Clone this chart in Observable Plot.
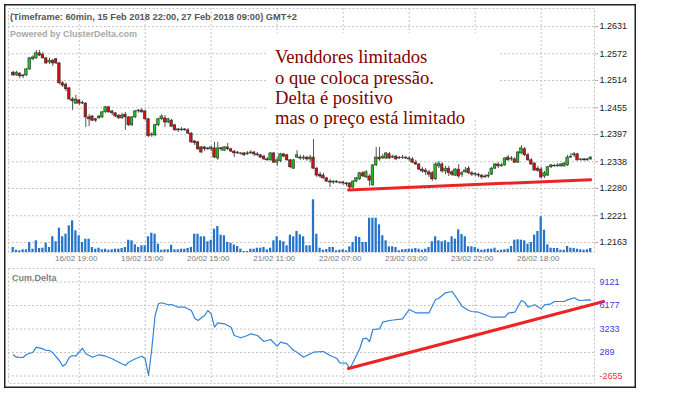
<!DOCTYPE html>
<html><head><meta charset="utf-8">
<script src="https://cdn.jsdelivr.net/npm/d3@7"></script>
<script src="https://cdn.jsdelivr.net/npm/@observablehq/plot@0.6"></script>
<style>
html,body{margin:0;padding:0;background:#fff;}
#chart{position:relative;width:699px;height:420px;overflow:hidden;background:#fff;}
#chart svg{position:absolute;left:0;top:0;}
</style></head><body><div id="chart"></div>
<script>
// ---------- DATA ----------
const openP = [
1.2531,1.2525,1.2529,1.2523,1.2525,1.2538,1.2560,1.2562,1.2573,1.2570,
1.2562,1.2553,1.2557,1.2560,1.2551,1.2508,1.2505,1.2497,1.2473,1.2464,
1.2471,1.2464,1.2464,1.2434,1.2436,1.2430,1.2432,1.2434,1.2445,1.2456,
1.2447,1.2443,1.2438,1.2432,1.2440,1.2434,1.2417,1.2434,1.2447,1.2449,
1.2447,1.2430,1.2395,1.2395,1.2417,1.2430,1.2432,1.2423,1.2427,1.2417,
1.2408,1.2406,1.2408,1.2406,1.2399,1.2382,1.2380,1.2369,1.2369,1.2365,
1.2365,1.2367,1.2345,1.2367,1.2362,1.2369,1.2365,1.2360,1.2358,1.2356,
1.2356,1.2354,1.2356,1.2358,1.2354,1.2352,1.2349,1.2343,1.2341,1.2356,
1.2336,1.2339,1.2354,1.2352,1.2341,1.2323,1.2347,1.2347,1.2345,1.2347,
1.2343,1.2347,1.2323,1.2310,1.2308,1.2302,1.2295,1.2293,1.2295,1.2293,
1.2293,1.2291,1.2291,1.2282,1.2295,1.2300,1.2313,1.2304,1.2306,1.2287,
1.2330,1.2347,1.2345,1.2345,1.2354,1.2347,1.2349,1.2345,1.2347,1.2347,
1.2345,1.2343,1.2336,1.2332,1.2321,1.2319,1.2315,1.2313,1.2300,1.2328,
1.2332,1.2317,1.2323,1.2315,1.2308,1.2321,1.2310,1.2315,1.2323,1.2313,
1.2310,1.2310,1.2308,1.2304,1.2306,1.2310,1.2323,1.2332,1.2328,1.2330,
1.2347,1.2343,1.2343,1.2336,1.2356,1.2365,1.2352,1.2341,1.2334,1.2323,
1.2321,1.2306,1.2308,1.2326,1.2328,1.2328,1.2328,1.2328,1.2330,1.2347,
1.2352,1.2354,1.2343,1.2343,1.2341,1.2343];
const highP = [
1.2534,1.2534,1.2531,1.2527,1.2540,1.2564,1.2568,1.2579,1.2579,1.2575,
1.2564,1.2562,1.2560,1.2562,1.2553,1.2512,1.2508,1.2499,1.2477,1.2482,
1.2473,1.2469,1.2466,1.2440,1.2438,1.2432,1.2438,1.2447,1.2458,1.2458,
1.2449,1.2445,1.2440,1.2443,1.2445,1.2436,1.2436,1.2449,1.2451,1.2453,
1.2449,1.2432,1.2401,1.2419,1.2432,1.2440,1.2438,1.2432,1.2430,1.2419,
1.2410,1.2412,1.2410,1.2410,1.2401,1.2384,1.2382,1.2371,1.2371,1.2369,
1.2371,1.2380,1.2380,1.2369,1.2371,1.2378,1.2367,1.2362,1.2360,1.2358,
1.2358,1.2360,1.2362,1.2360,1.2358,1.2354,1.2352,1.2347,1.2358,1.2358,
1.2347,1.2356,1.2356,1.2354,1.2343,1.2343,1.2362,1.2352,1.2352,1.2349,
1.2352,1.2386,1.2326,1.2315,1.2313,1.2304,1.2300,1.2297,1.2297,1.2295,
1.2295,1.2293,1.2293,1.2297,1.2304,1.2315,1.2317,1.2319,1.2310,1.2332,
1.2369,1.2369,1.2354,1.2358,1.2358,1.2352,1.2352,1.2349,1.2352,1.2349,
1.2349,1.2347,1.2341,1.2334,1.2326,1.2323,1.2319,1.2317,1.2336,1.2339,
1.2336,1.2328,1.2328,1.2319,1.2323,1.2332,1.2317,1.2326,1.2328,1.2317,
1.2315,1.2313,1.2310,1.2310,1.2315,1.2326,1.2334,1.2336,1.2334,1.2347,
1.2352,1.2349,1.2347,1.2360,1.2373,1.2369,1.2356,1.2345,1.2336,1.2328,
1.2326,1.2317,1.2328,1.2332,1.2332,1.2334,1.2334,1.2336,1.2352,1.2356,
1.2358,1.2356,1.2345,1.2345,1.2345,1.2349];
const lowP = [
1.2523,1.2523,1.2518,1.2518,1.2523,1.2536,1.2557,1.2560,1.2566,1.2560,
1.2549,1.2549,1.2544,1.2549,1.2505,1.2499,1.2490,1.2471,1.2449,1.2462,
1.2460,1.2462,1.2412,1.2414,1.2425,1.2423,1.2430,1.2432,1.2443,1.2443,
1.2438,1.2434,1.2430,1.2430,1.2406,1.2414,1.2414,1.2432,1.2443,1.2443,
1.2427,1.2391,1.2391,1.2393,1.2414,1.2427,1.2412,1.2421,1.2412,1.2404,
1.2401,1.2404,1.2404,1.2397,1.2378,1.2373,1.2362,1.2356,1.2360,1.2362,
1.2360,1.2345,1.2341,1.2360,1.2360,1.2362,1.2358,1.2347,1.2354,1.2352,
1.2349,1.2352,1.2354,1.2349,1.2349,1.2345,1.2341,1.2339,1.2339,1.2334,
1.2328,1.2336,1.2347,1.2339,1.2323,1.2321,1.2345,1.2341,1.2341,1.2339,
1.2336,1.2321,1.2304,1.2302,1.2300,1.2293,1.2282,1.2289,1.2291,1.2289,
1.2287,1.2284,1.2278,1.2280,1.2293,1.2297,1.2304,1.2302,1.2284,1.2284,
1.2328,1.2339,1.2343,1.2343,1.2343,1.2345,1.2341,1.2343,1.2343,1.2343,
1.2339,1.2334,1.2330,1.2319,1.2313,1.2308,1.2304,1.2295,1.2297,1.2323,
1.2313,1.2310,1.2306,1.2306,1.2306,1.2302,1.2304,1.2313,1.2310,1.2306,
1.2306,1.2304,1.2300,1.2302,1.2302,1.2308,1.2321,1.2323,1.2326,1.2328,
1.2339,1.2339,1.2334,1.2334,1.2354,1.2349,1.2339,1.2330,1.2317,1.2315,
1.2300,1.2302,1.2306,1.2323,1.2326,1.2326,1.2326,1.2326,1.2328,1.2345,
1.2347,1.2339,1.2339,1.2339,1.2339,1.2341];
const closeP = [
1.2525,1.2531,1.2523,1.2525,1.2538,1.2562,1.2564,1.2573,1.2568,1.2562,
1.2551,1.2557,1.2551,1.2551,1.2508,1.2503,1.2495,1.2473,1.2469,1.2473,
1.2464,1.2466,1.2434,1.2430,1.2427,1.2427,1.2436,1.2445,1.2456,1.2445,
1.2443,1.2436,1.2432,1.2438,1.2434,1.2417,1.2434,1.2447,1.2449,1.2445,
1.2430,1.2393,1.2397,1.2417,1.2430,1.2436,1.2423,1.2430,1.2414,1.2406,
1.2406,1.2408,1.2406,1.2399,1.2380,1.2378,1.2365,1.2358,1.2365,1.2367,
1.2369,1.2347,1.2367,1.2365,1.2369,1.2365,1.2360,1.2356,1.2356,1.2355,
1.2352,1.2356,1.2358,1.2354,1.2352,1.2347,1.2343,1.2341,1.2356,1.2336,
1.2341,1.2354,1.2349,1.2341,1.2326,1.2341,1.2352,1.2345,1.2347,1.2343,
1.2347,1.2323,1.2308,1.2306,1.2302,1.2295,1.2293,1.2295,1.2293,1.2292,
1.2291,1.2289,1.2282,1.2295,1.2302,1.2313,1.2306,1.2315,1.2297,1.2330,
1.2347,1.2343,1.2349,1.2356,1.2345,1.2349,1.2343,1.2347,1.2346,1.2345,
1.2343,1.2336,1.2332,1.2321,1.2317,1.2315,1.2310,1.2300,1.2332,1.2334,
1.2317,1.2323,1.2313,1.2310,1.2321,1.2306,1.2313,1.2319,1.2313,1.2310,
1.2311,1.2308,1.2304,1.2306,1.2308,1.2323,1.2332,1.2328,1.2330,1.2345,
1.2341,1.2345,1.2336,1.2358,1.2367,1.2352,1.2341,1.2332,1.2319,1.2318,
1.2304,1.2313,1.2326,1.2330,1.2329,1.2330,1.2332,1.2334,1.2347,1.2349,
1.2354,1.2341,1.2342,1.2341,1.2343,1.2347];
const volume = [
50,23,17,27,27,100,33,117,40,43,
93,50,157,107,243,157,183,267,317,217,
167,100,133,133,50,33,43,27,33,23,
27,33,33,40,50,123,117,77,50,67,
67,157,193,183,83,23,27,27,73,27,
27,33,33,40,50,183,183,157,157,107,
123,233,260,173,167,100,93,75,60,33,
10,10,33,33,43,43,50,27,43,117,
157,117,107,67,173,157,210,177,157,67,
67,527,183,43,23,30,50,50,17,23,
27,17,57,100,157,150,100,100,343,343,
343,277,167,117,57,57,50,17,27,30,
33,33,40,33,23,33,50,107,157,117,
107,117,100,157,133,227,180,157,57,57,
50,33,23,27,33,33,43,17,23,27,
33,60,123,127,123,117,83,100,173,210,
357,223,77,43,40,40,23,23,60,43,
40,33,27,23,27,40];
const deltaIdx = [0,1,3,4,6,7,9,10,11,12,14,15,16,17,18,19,21,22,24,26,28,30,32,34,35,37,39,40,41,42,43,44,45,47,48,50,52,54,55,56,58,59,60,61,62,64,66,67,69,71,72,74,76,78,80,81,83,85,86,88,89,91,94,96,98,99,101,102,103,105,106,107,108,109,111,112,114,118,120,122,126,128,129,131,133,134,136,138,139,141,143,145,149,150,152,154,155,156,158,160,161,163,164,167,168,170,171,172,174,175];
const deltaVal = [1,-300,-338,38,327,953,753,540,540,251,-713,-1428,-1127,-300,-87,-175,828,126,-300,1,-175,-500,-926,-1340,-926,-500,-175,-500,-2593,753,4925,6391,6517,6266,6303,5965,5965,5552,4587,4299,4925,5552,5138,3459,4010,3885,3459,2419,2131,2419,2632,2419,1667,1918,1078,1580,1379,540,327,-300,-87,327,414,-87,-425,-1002,-1052,-1753,-926,753,2006,2081,1667,3171,3259,4086,4299,4512,5677,5263,5263,6930,7093,7769,7932,7343,6090,5552,5426,5339,5013,4712,4712,5213,5339,6805,6592,5965,6266,5765,6266,6391,6679,6679,6892,7143,6892,6805,6892,6850];
const tickIndex = [20,40,60,80,100,120,140,160];
const tickLabels = ["16/02 19:00","19/02 15:00","20/02 15:00","21/02 11:00","22/02 07:00","23/02 03:00","23/02 22:00","26/02 18:00"];
const priceTicks = [1.2163,1.2221,1.2280,1.2338,1.2397,1.2455,1.2514,1.2572,1.2631];
const deltaTicks = [-2655,289,3233,6177,9121];
const priceTrendIdx = [101.6,175];
const priceTrendVal = [1.2277,1.2299];
const deltaTrendIdx = [101.6,178.9];
const deltaTrendVal = [-1716,6679];
const titleText = "(Timeframe: 60min, 15 Feb 2018 22:00, 27 Feb 2018 09:00) GMT+2";
const poweredText = "Powered by ClusterDelta.com";
const noteLines = ["Venddores limitados","o que coloca pressão.","Delta é positivo","mas o preço está limitado"];

// ---------- DRAWING ----------
const W = 699, H = 420;
const xDom = [-1.424, 176.15];
const font = "'Liberation Sans', Arial, sans-serif";
const grid = {stroke:"#c6c6c6", strokeOpacity:1, strokeDasharray:"2,2", strokeWidth:1};
const common = {width:W, height:H, marginLeft:8, marginRight:105,
  style:{background:"transparent", overflow:"visible", fontFamily:font}};

const candles = openP.map((o,i)=>({i, o, h:highP[i], l:lowP[i], c:closeP[i]}));
const up = candles.filter(d=>d.c>=d.o), down = candles.filter(d=>d.c<d.o);

const pricePlot = Plot.plot({...common, marginTop:8, marginBottom:168,
  x:{domain:xDom, axis:null}, y:{domain:[1.21413,1.26701], axis:null},
  marks:[
    Plot.frame({stroke:"#c6c6c6", strokeDasharray:"2,2"}),
    Plot.gridY(priceTicks, grid),
    Plot.gridX(tickIndex, grid),
    Plot.ruleX(candles, {x:"i", y1:"l", y2:"h", stroke:"#555", strokeWidth:1}),
    Plot.rect(up, {x1:d=>d.i-0.38, x2:d=>d.i+0.38, y1:"o", y2:"c", fill:"#1ec41e", stroke:"#2a2a2a", strokeWidth:0.6}),
    Plot.rect(down, {x1:d=>d.i-0.38, x2:d=>d.i+0.38, y1:"o", y2:"c", fill:"#d41010", stroke:"#2a2a2a", strokeWidth:0.6}),
    Plot.line(priceTrendIdx.map((x,k)=>({x, y:priceTrendVal[k]})), {x:"x", y:"y", stroke:"#ee2424", strokeWidth:3}),
    Plot.axisY(priceTicks, {anchor:"right", tickSize:3, tickPadding:2, tickFormat:d=>d.toFixed(4), stroke:"#aaa", fill:"#222", fontSize:9, label:null}),
    Plot.text(tickIndex, {x:d=>d, frameAnchor:"bottom", dy:8, dx:-3, text:(d,k)=>tickLabels[k], fill:"#777", fontSize:8})
  ]});

const volPlot = Plot.plot({...common, marginTop:192, marginBottom:168,
  x:{domain:xDom, axis:null}, y:{domain:[0,600], axis:null},
  marks:[
    Plot.rect(volume.map((v,i)=>({i,v})), {x1:d=>d.i-0.34, x2:d=>d.i+0.34, y1:d=>0, y2:"v", fill:"#2474cc"})
  ]});

const dPts = deltaIdx.map((i,k)=>({i, v:deltaVal[k]}));
const deltaPlot = Plot.plot({...common, marginTop:268, marginBottom:37,
  x:{domain:xDom, axis:null}, y:{domain:[-3595,10814], axis:null},
  marks:[
    Plot.frame({stroke:"#c6c6c6", strokeDasharray:"2,2"}),
    Plot.gridY(deltaTicks, grid),
    Plot.gridX(tickIndex, grid),
    Plot.line(dPts, {x:"i", y:"v", stroke:"#3383d6", strokeWidth:1.2}),
    Plot.line(deltaTrendIdx.map((x,k)=>({x, y:deltaTrendVal[k]})), {x:"x", y:"y", stroke:"#ee2424", strokeWidth:3}),
    Plot.text(deltaTicks.filter(d=>d>=0), {y:d=>d, frameAnchor:"right", dx:5, textAnchor:"start", text:d=>String(d), fill:"#3c3ce0", fontSize:9}),
    Plot.text(deltaTicks.filter(d=>d<0), {y:d=>d, frameAnchor:"right", dx:5, textAnchor:"start", text:d=>String(d), fill:"#f03030", fontSize:9})
  ]});

const chart = document.getElementById("chart");
chart.append(pricePlot, volPlot, deltaPlot);

// decorations: border, note boxes, texts
const deco = d3.create("svg").attr("width", W).attr("height", H);
deco.append("rect").attr("x",268).attr("y",33).attr("width",230).attr("height",85).attr("fill","#fff");
deco.append("rect").attr("x",268).attr("y",118).attr("width",202).attr("height",15).attr("fill","#fff");
deco.append("rect").attr("x",498).attr("y",97).attr("width",70).attr("height",21).attr("fill","#fff");
deco.append("rect").attr("x",4.75).attr("y",4.75).attr("width",630.5).attr("height",382.5)
  .attr("fill","none").attr("stroke","#222").attr("stroke-width",1.5);
deco.append("text").attr("x",10).attr("y",20).attr("textLength",287).attr("lengthAdjust","spacingAndGlyphs")
  .attr("font-family",font).attr("font-weight","bold").attr("font-size",9).attr("fill","#555").text(titleText);
deco.append("text").attr("x",10).attr("y",36.5)
  .attr("font-family",font).attr("font-weight","bold").attr("font-size",9).attr("fill","#a8a8a8").text(poweredText);
deco.append("text").attr("x",12).attr("y",281)
  .attr("font-family",font).attr("font-weight","bold").attr("font-size",9).attr("fill","#808080").text("Cum.Delta");
const baselines = [63, 83.5, 104, 124];
noteLines.forEach((t,k)=>{
  deco.append("text").attr("x",275).attr("y",baselines[k])
    .attr("font-family","'Liberation Serif', 'Times New Roman', serif").attr("font-size",18.6)
    .attr("fill","#800000").text(t);
});
chart.append(deco.node());
</script></body></html>
